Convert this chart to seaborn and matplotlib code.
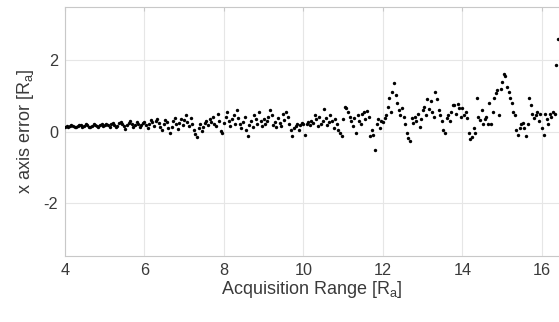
import numpy as np
import pandas as pd
import matplotlib
matplotlib.use("Agg")
from matplotlib import pyplot as plt
import seaborn as sns

# x axis error per acquisition range, sampled every 0.04 R_a, one list per unit range
err_04 = [0.14, 0.16, 0.13, 0.15, 0.18, 0.16, 0.14, 0.12, 0.15, 0.19, 0.17, 0.13, 0.15,
          0.20, 0.18, 0.14, 0.12, 0.16, 0.21, 0.17, 0.15, 0.13, 0.18, 0.20, 0.16]
err_05 = [0.19, 0.22, 0.17, 0.14, 0.20, 0.25, 0.18, 0.12, 0.16, 0.23, 0.27, 0.20, 0.15,
          0.08, 0.18, 0.24, 0.30, 0.21, 0.14, 0.19, 0.26, 0.22, 0.13, 0.17, 0.24]
err_06 = [0.28, 0.18, 0.10, 0.22, 0.33, 0.26, 0.15, 0.30, 0.36, 0.24, 0.12, 0.05, 0.20,
          0.31, 0.26, 0.10, -0.05, 0.14, 0.29, 0.38, 0.22, 0.08, 0.25, 0.35, 0.18]
err_07 = [0.32, 0.45, 0.28, 0.15, 0.38, 0.22, 0.05, -0.08, -0.15, 0.10, 0.20, 0.02, 0.12,
          0.25, 0.30, 0.18, 0.35, 0.28, 0.40, 0.22, 0.15, 0.48, 0.30, 0.02, -0.05]
err_08 = [0.25, 0.40, 0.56, 0.30, 0.15, 0.35, 0.45, 0.22, 0.60, 0.38, 0.20, 0.10, 0.28,
          0.42, 0.05, -0.12, 0.18, 0.30, 0.12, 0.45, 0.35, 0.20, 0.56, 0.30, 0.15]
err_09 = [0.35, 0.22, 0.30, 0.40, 0.60, 0.45, 0.18, 0.28, 0.12, 0.38, 0.25, 0.15, 0.50,
          0.32, 0.56, 0.42, 0.20, 0.05, -0.14, 0.10, 0.15, 0.22, 0.05, 0.18, 0.25]
err_10 = [0.20, -0.10, 0.22, 0.28, 0.18, 0.30, 0.25, 0.45, 0.35, 0.15, 0.40, 0.22, 0.30,
          0.62, 0.38, 0.18, 0.28, 0.45, 0.30, 0.10, 0.35, 0.20, 0.05, -0.05, -0.12]
err_11 = [0.35, 0.70, 0.67, 0.55, 0.42, 0.30, 0.15, 0.38, -0.05, 0.45, 0.30, 0.20, 0.48,
          0.56, 0.35, 0.58, 0.40, -0.12, 0.05, -0.10, -0.52, 0.20, 0.35, 0.10, 0.30]
err_12 = [0.28, 0.38, 0.47, 0.70, 0.93, 0.56, 1.10, 1.35, 1.03, 0.80, 0.60, 0.47, 0.65,
          0.40, 0.22, -0.05, -0.18, -0.28, 0.37, 0.25, 0.42, 0.30, 0.50, 0.14, 0.35]
err_13 = [0.60, 0.70, 0.45, 0.90, 0.62, 0.85, 0.56, 0.42, 1.12, 0.90, 0.60, 0.47, 0.30,
          0.05, -0.05, 0.37, 0.45, 0.30, 0.55, 0.75, 0.75, 0.50, 0.78, 0.65, 0.40]
err_14 = [0.65, 0.45, 0.56, 0.37, -0.05, -0.22, -0.15, 0.10, -0.05, 0.93, 0.42, 0.33, 0.60,
          0.20, 0.35, 0.40, 0.20, 0.80, 0.20, 0.55, 0.93, 1.07, 1.17, 0.47, 1.20]
err_15 = [1.40, 1.63, 1.55, 1.26, 1.12, 0.93, 0.80, 0.55, 0.47, 0.05, -0.10, 0.10, 0.20,
          0.25, 0.10, -0.14, 0.20, 0.93, 0.75, 0.50, 0.37, 0.45, 0.56, 0.30, 0.50]
err_16 = [0.10, -0.10, 0.50, 0.35, 0.20, 0.50, 0.42, 0.55, 0.48, 1.87, 2.60]

range_start = 4.0
range_step = 0.04

xticks = [4, 6, 8, 10, 12, 14, 16]
yticks = [-2, 0, 2]

errors = (err_04 + err_05 + err_06 + err_07 + err_08 + err_09 + err_10 + err_11
          + err_12 + err_13 + err_14 + err_15 + err_16)
frame = pd.DataFrame({
    "range": np.round(range_start + range_step * np.arange(len(errors)), 2),
    "error": errors,
})

sns.set_style("white")
plt.rcParams["font.family"] = ["Liberation Sans", "DejaVu Sans"]
plt.rcParams["axes.unicode_minus"] = False

fig = plt.figure(figsize=(5.59, 3.22), dpi=100)
ax = fig.add_axes([65 / 559, 1 - 256 / 322, 1 - 65 / 559, 249 / 322])

sns.scatterplot(data=frame, x="range", y="error", color="black", s=6,
                linewidth=0, ax=ax, zorder=3)

ax.set_xlim(4, 16.43)
ax.set_ylim(-3.5, 3.5)
ax.set_xticks(xticks)
ax.set_yticks(yticks)
ax.grid(True, color="#e6e6e6", linewidth=0.8)
ax.set_axisbelow(True)

for side in ["left", "bottom", "top"]:
    ax.spines[side].set_color("#c8c8c8")
    ax.spines[side].set_linewidth(0.8)
ax.spines["right"].set_visible(False)

ax.tick_params(direction="in", length=3, color="#c8c8c8", labelsize=11.7,
               labelcolor="#3a3a3a", top=True, pad=5)

ax.set_xlabel("Acquisition Range [R$_\\mathregular{a}$]", fontsize=13, color="#3a3a3a", labelpad=1)
ax.set_ylabel("x axis error [R$_\\mathregular{a}$]", fontsize=13, color="#3a3a3a", labelpad=5)

plt.savefig("out.png", dpi=100)
